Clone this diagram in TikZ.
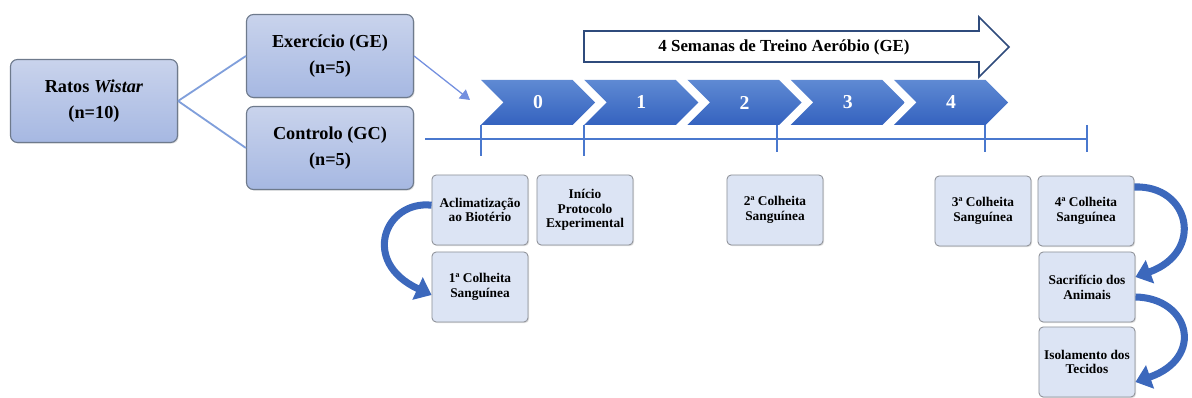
\documentclass[tikz,border=0pt]{standalone}
\usepackage{fontspec}
\setmainfont{Liberation Serif}
\usetikzlibrary{arrows.meta,shapes.symbols,shadows}
\definecolor{boxtop}{HTML}{C9D3EC}
\definecolor{boxbot}{HTML}{A6B8E2}
\definecolor{boxline}{HTML}{6E7A8C}
\definecolor{smallfill}{HTML}{DCE4F4}
\definecolor{smallline}{HTML}{8C8F96}
\definecolor{chevtop}{HTML}{5F8AD3}
\definecolor{chevbot}{HTML}{3462BF}
\definecolor{tlblue}{HTML}{4A78CE}
\definecolor{connblue}{HTML}{809FDB}
\definecolor{curvblue}{HTML}{3C68BC}
\definecolor{navy}{HTML}{2F4B7C}

\begin{document}
\begin{tikzpicture}[x=0.025cm,y=-0.025cm,
  grupo/.style={draw=boxline,line width=0.8pt,rounded corners=5pt,top color=boxtop,bottom color=boxbot,
    minimum width=4.175cm,minimum height=2.075cm,align=center,font=\fontsize{13}{19}\selectfont\bfseries,
    drop shadow={opacity=0.25,shadow xshift=0.8pt,shadow yshift=-0.8pt}},
  etapa/.style={draw=smallline,line width=0.6pt,rounded corners=3pt,fill=smallfill,
    minimum width=2.4cm,minimum height=1.75cm,align=center,inner sep=1pt,
    font=\fontsize{9.5}{10.5}\selectfont\bfseries,
    drop shadow={opacity=0.25,shadow xshift=0.8pt,shadow yshift=-0.8pt}},
  semana/.style={shape=signal,signal from=west,signal to=east,top color=chevtop,bottom color=chevbot,
    minimum width=2.85cm,minimum height=1.125cm,inner sep=0pt,text=white,font=\fontsize{14}{14}\selectfont\bfseries},
  ligacao/.style={draw=connblue,line width=1.3pt},
  tempo/.style={draw=tlblue,line width=1.2pt},
  curva/.style={draw=curvblue,line width=5pt,-{Triangle[width=17pt,length=11pt]}}]
\useasboundingbox (0,0) rectangle (1192,398);

% grupos
\node[grupo] (ratos) at (94,101) {Ratos \textit{Wistar}\\(n=10)};
\node[grupo] (ex) at (330,56) {Exercício (GE)\\(n=5)};
\node[grupo] (ctrl) at (330,148) {Controlo (GC)\\(n=5)};
\draw[ligacao] (ratos.east) -- (ex.west);
\draw[ligacao] (ratos.east) -- (ctrl.west);

% semanas
\foreach \i in {0,...,4}
  \node[semana] (c\i) at (538+103.25*\i,102.5) {\i};
\coordinate (entrada) at (470,100);
\draw[draw=connblue!90!blue,line width=0.9pt,-{Triangle[width=8pt,length=7pt]}] (ex.east) -- (entrada);

% treino
\draw[draw=navy,line width=1.2pt,fill=white] (584,31) -- (979,31) -- (979,17) -- (1009,47)
  -- (979,77) -- (979,62) -- (584,62) -- cycle;
\node[font=\fontsize{12}{12}\selectfont\bfseries] (treino) at (784,47) {4 Semanas de Treino Aeróbio (GE)};

% linha temporal
\coordinate (t0) at (425,139);
\coordinate (tf) at (1087,139);
\draw[tempo] (t0) -- (tf);
\foreach \x/\b in {481/156,584/156,777/152,985/152,1087/152}
  \draw[tempo] (\x,125) -- (\x,\b);

% etapas
\node[etapa] (acl) at (480,210) {Aclimatização\\ao Biotério};
\node[etapa] (col1) at (480,287) {1ª Colheita\\Sanguínea};
\node[etapa] (ini) at (585,210) {Início\\Protocolo\\Experimental};
\node[etapa] (col2) at (775,210) {2ª Colheita\\Sanguínea};
\node[etapa] (col3) at (983,211) {3ª Colheita\\Sanguínea};
\node[etapa] (col4) at (1086,211) {4ª Colheita\\Sanguínea};
\node[etapa] (sac) at (1087,287) {Sacrifício dos\\Animais};
\node[etapa] (iso) at (1087,362) {Isolamento dos\\Tecidos};

% setas curvas
\draw[curva] ([yshift=0.12cm]acl.west) .. controls (385,200) and (360,262) .. ([yshift=-0.2cm]col1.west);
\draw[curva] ([yshift=0.6cm]col4.east) .. controls (1190,185) and (1205,252) .. ([yshift=0.25cm]sac.east);
\draw[curva] ([yshift=-0.25cm]sac.east) .. controls (1190,298) and (1205,358) .. ([yshift=-0.5cm]iso.east);
\end{tikzpicture}
\end{document}
